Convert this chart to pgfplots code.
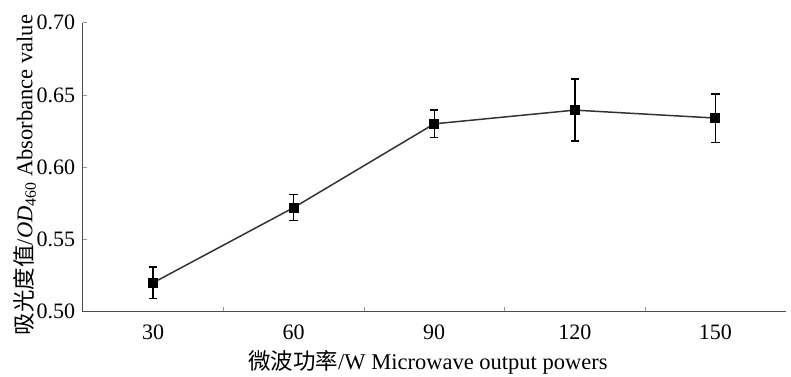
\documentclass[border=0pt]{standalone}
\usepackage{fontspec}
\setmainfont{Liberation Serif}
\newfontfamily\cjk{Noto Sans CJK SC}
\usepackage{pgfplots}
\pgfplotsset{compat=1.18}
\usetikzlibrary{calc}
\begin{document}
\fontsize{22bp}{26bp}\selectfont
\begin{tikzpicture}
\begin{axis}[
  scale only axis, width=703bp, height=289bp,
  xmin=-0.5, xmax=4.5, ymin=0.5, ymax=0.7,
  axis x line*=bottom, axis y line*=left,
  axis line style={draw=black!70, line width=1.1pt, -},
  xtick={0,1,2,3,4}, xticklabels={30,60,90,120,150},
  major x tick style={draw=none},
  minor xtick={0.5,1.5,2.5,3.5},
  minor x tick style={draw=black!40, line width=0.6pt},
  minor tick length=5bp,
  ytick={0.50,0.55,0.60,0.65,0.70},
  major tick length=4bp,
  tick align=inside,
  y tick style={draw=black!40, line width=0.6pt},
  yticklabel style={/pgf/number format/.cd, fixed, fixed zerofill, precision=2},
  /pgf/number format/assume math mode=true,
  tick label style={font=\fontsize{22bp}{26bp}\selectfont, black},
  xticklabel style={yshift=-6bp},
  label style={font=\fontsize{22.5bp}{27bp}\selectfont, black},
  xlabel={{\cjk 微波功率}/W Microwave output powers},
  ylabel={{\cjk 吸光度值}/\textit{OD}\textsubscript{460} Absorbance value},
  xlabel style={at={(axis description cs:0.491,0)}, anchor=center, yshift=-51bp},
  ylabel style={at={(axis description cs:0,0.473)}, anchor=center, yshift=58bp},
  clip=false,
]
\addplot[draw=black!80, line width=1.5pt, mark=square*,
  mark size=4.2bp, mark options={solid, fill=black, draw=black},
  error bars/.cd, y dir=both, y explicit,
  error bar style={line width=1.4pt, black},
  error mark options={black, mark size=4.2bp, line width=1.4pt, rotate=90}]
  coordinates {
  (0,0.520) +- (0,0.011)
  (1,0.572) +- (0,0.009)
  (2,0.630) +- (0,0.0096)
  (3,0.6395) +- (0,0.0215)
  (4,0.634) +- (0,0.0167)
  };
\coordinate (O) at (rel axis cs:0,0);
\end{axis}
\pgfresetboundingbox
\path[use as bounding box] ($(O)+(-82.7bp,-65.3bp)$) rectangle ($(O)+(708.3bp,311.7bp)$);
\end{tikzpicture}
\end{document}
